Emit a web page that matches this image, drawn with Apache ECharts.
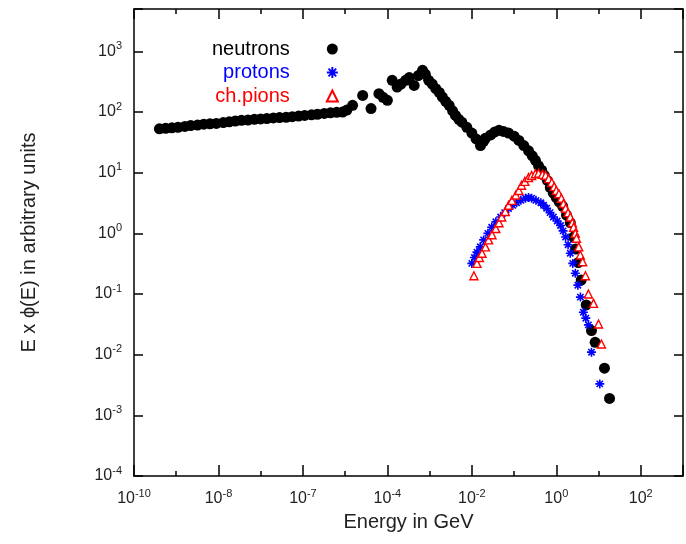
<!DOCTYPE html>
<html>
<head>
<meta charset="utf-8">
<script src="https://cdn.jsdelivr.net/npm/echarts@6/dist/echarts.min.js"></script>
<style>
html, body { margin: 0; padding: 0; background: #fff; }
#chart { width: 686px; height: 544px; }
</style>
</head>
<body>
<div id="chart"></div>
<script>
// neutrons: energy in GeV and E x phi(E)
var neutronE = [4.0e-10, 5.6e-10, 7.9e-10, 1.1e-9, 1.6e-9, 2.2e-9, 3.2e-9, 4.5e-9, 6.3e-9, 8.9e-9,
    1.3e-8, 1.8e-8, 2.5e-8, 3.5e-8, 5.0e-8, 7.1e-8, 1.0e-7, 1.4e-7, 2.0e-7, 2.8e-7,
    4.0e-7, 5.6e-7, 7.9e-7, 1.1e-6, 1.6e-6, 2.2e-6, 3.2e-6, 4.5e-6, 6.3e-6, 8.7e-6,
    1.1e-5, 1.5e-5, 2.6e-5, 4.1e-5, 6.3e-5, 7.9e-5, 1.0e-4, 1.3e-4, 1.7e-4, 2.1e-4,
    2.7e-4, 3.3e-4, 4.3e-4, 5.4e-4, 6.8e-4, 7.9e-4, 9.5e-4, 1.15e-3, 1.4e-3, 1.7e-3,
    2.0e-3, 2.4e-3, 2.9e-3, 3.5e-3, 4.1e-3, 4.9e-3, 5.8e-3, 7.6e-3, 1.0e-2, 1.26e-2,
    1.6e-2, 1.9e-2, 2.1e-2, 2.8e-2, 3.5e-2, 4.4e-2, 5.6e-2, 7.4e-2, 0.10, 0.13,
    0.17, 0.22, 0.27, 0.32, 0.38, 0.45, 0.52, 0.62, 0.72, 0.85,
    1.0, 1.17, 1.41, 1.74, 2.14, 2.57, 2.88, 3.31, 3.89, 5.1,
    6.8, 8.3, 13.8, 18.2];
var neutronFlux = [53, 54, 55, 56, 58, 60, 61, 63, 64, 65,
    67, 69, 71, 73, 74, 76, 77, 78, 80, 81,
    82, 84, 86, 88, 90, 92, 95, 97, 99, 100,
    108, 129, 188, 114, 201, 175, 156, 333, 258, 290,
    333, 370, 275, 400, 487, 420, 333, 290, 243, 210,
    177, 150, 129, 105, 88, 76, 68, 56, 45, 36,
    28, 33, 37, 42, 47, 50, 48, 45, 40, 34,
    28, 23, 19, 16, 13, 11, 9.0, 7.4, 5.7, 4.6,
    3.9, 3.3, 2.8, 2.0, 1.5, 0.87, 0.55, 0.33, 0.17, 0.066,
    0.025, 0.016, 0.006, 0.0019];

// protons
var protonE = [0.010, 0.0115, 0.0132, 0.0158, 0.019, 0.024, 0.0295, 0.037, 0.048, 0.060,
    0.074, 0.093, 0.115, 0.145, 0.186, 0.22, 0.26, 0.33, 0.43, 0.50,
    0.59, 0.71, 0.85, 1.05, 1.26, 1.45, 1.66, 1.9, 2.14, 2.45,
    2.82, 3.24, 3.72, 4.37, 5.0, 5.75, 6.8, 10.7];
var protonFlux = [0.32, 0.40, 0.49, 0.60, 0.78, 1.0, 1.26, 1.55, 1.86, 2.2,
    2.57, 2.9, 3.2, 3.5, 3.8, 3.9, 3.8, 3.5, 3.2, 2.9,
    2.6, 2.2, 1.86, 1.6, 1.35, 1.1, 0.87, 0.65, 0.47, 0.32,
    0.22, 0.14, 0.089, 0.05, 0.04, 0.031, 0.011, 0.0033];

// charged pions
var pionE = [0.0112, 0.0132, 0.0151, 0.0174, 0.021, 0.025, 0.030, 0.037, 0.044, 0.051,
    0.062, 0.074, 0.089, 0.11, 0.13, 0.15, 0.18, 0.22, 0.26, 0.32,
    0.38, 0.47, 0.56, 0.66, 0.78, 0.89, 1.0, 1.15, 1.32, 1.48,
    1.66, 1.9, 2.14, 2.4, 2.57, 2.82, 3.0, 3.4, 3.7, 4.2,
    4.9, 5.75, 7.6, 10, 11.7];
var pionFlux = [0.20, 0.32, 0.40, 0.47, 0.60, 0.78, 0.95, 1.2, 1.5, 1.86,
    2.3, 2.9, 3.5, 4.3, 5.1, 6.2, 7.2, 8.3, 9.0, 9.6,
    9.8, 9.4, 9.1, 8.0, 6.9, 5.9, 5.1, 4.5, 3.8, 3.1,
    2.6, 2.2, 1.86, 1.5, 1.26, 1.0, 0.83, 0.6, 0.44, 0.34,
    0.20, 0.10, 0.07, 0.032, 0.015];

// tick labels (superscript part, as printed on the original)
var xTickExps = [-10, -8, -6, -4, -2, 0, 2];
var xTickTexts = ['-10', '-8', '-7', '-4', '-2', '0', '2'];
var yTickExps = [-4, -3, -2, -1, 0, 1, 2, 3];
var yTickTexts = ['-4', '-3', '-2', '-1', '0', '1', '2', '3'];

var seriesNames = ['neutrons', 'protons', 'ch.pions'];
var seriesColors = ['#000000', '#0000ff', '#ff0000'];

var font = 'Liberation Sans, Arial, sans-serif';
var textColor = '#222';

function pairs(xs, ys) {
    return xs.map(function (x, i) { return [x, ys[i]]; });
}

// 10^n labels with the exponent as superscript
function powerLabel(exps, texts) {
    return function (v) {
        var e = Math.log10(v);
        var r = Math.round(e);
        var i = exps.indexOf(r);
        if (Math.abs(e - r) > 1e-6 || i < 0) return '';
        return '{b|10}{s|' + texts[i] + '}';
    };
}

var richLabel = {
    b: { fontSize: 16, lineHeight: 22, color: textColor, fontFamily: font },
    s: { fontSize: 11, lineHeight: 12, verticalAlign: 'top', color: textColor, fontFamily: font }
};

var frameLine = { show: true, onZero: false, lineStyle: { color: '#000', width: 1.5 } };
var noLine = { show: false, onZero: false };

function xAxisDef(position, interval, tickLen, withLabels) {
    return {
        type: 'log', logBase: 10, min: 1e-10, max: 1e3, interval: interval,
        position: position,
        axisLine: tickLen > 6 ? frameLine : noLine,
        axisTick: { show: true, inside: true, length: tickLen, lineStyle: { color: '#000', width: 1.5 } },
        axisLabel: withLabels ? {
            show: true, margin: 12, formatter: powerLabel(xTickExps, xTickTexts), rich: richLabel
        } : { show: false },
        splitLine: { show: false }
    };
}

function yAxisDef(position, withLabels) {
    return {
        type: 'log', logBase: 10, min: 1e-4, max: 5000, interval: 1,
        position: position,
        axisLine: frameLine,
        axisTick: { show: true, inside: true, length: 9, lineStyle: { color: '#000', width: 1.5 } },
        axisLabel: withLabels ? {
            show: true, margin: 12, formatter: powerLabel(yTickExps, yTickTexts), rich: richLabel
        } : { show: false },
        splitLine: { show: false }
    };
}

var chart = echarts.init(document.getElementById('chart'));

// long ticks every two decades, short ones every decade, mirrored on the top
var xAxes = [
    xAxisDef('bottom', 2, 11, true),
    xAxisDef('top', 2, 10, false),
    xAxisDef('bottom', 1, 5, false),
    xAxisDef('top', 1, 5, false)
];
xAxes[0].name = 'Energy in GeV';
xAxes[0].nameLocation = 'middle';
xAxes[0].nameGap = 36;
xAxes[0].nameTextStyle = { fontSize: 20, color: textColor, fontFamily: font };

var yAxes = [
    yAxisDef('left', true),
    yAxisDef('right', false)
];
yAxes[0].name = 'E x \u03d5(E) in arbitrary units';
yAxes[0].nameLocation = 'middle';
yAxes[0].nameGap = 95;
yAxes[0].nameTextStyle = { fontSize: 20, color: textColor, fontFamily: font };

var option = {
    animation: false,
    backgroundColor: '#fff',
    grid: { left: 134, right: 1, top: 9, bottom: 68, containLabel: false },
    legend: {
        orient: 'vertical',
        left: 207,
        top: 34,
        align: 'right',
        itemWidth: 11,
        itemHeight: 11,
        itemGap: 3.5,
        selectedMode: false,
        textStyle: { fontSize: 20, fontFamily: font, padding: [0, 32, 0, 0] },
        data: seriesNames.map(function (n, i) {
            return { name: n, textStyle: { color: seriesColors[i] } };
        })
    },
    xAxis: xAxes,
    yAxis: yAxes,
    series: [
        {
            name: seriesNames[0], type: 'scatter', xAxisIndex: 0, yAxisIndex: 0,
            symbol: 'circle', symbolSize: 11,
            itemStyle: { color: seriesColors[0], opacity: 1 },
            data: pairs(neutronE, neutronFlux)
        },
        {
            name: seriesNames[1], type: 'scatter', xAxisIndex: 0, yAxisIndex: 0,
            symbol: 'path://M5,0L5,10M0,5L10,5M1.5,1.5L8.5,8.5M8.5,1.5L1.5,8.5', symbolSize: 9,
            itemStyle: { color: 'rgba(0,0,0,0)', borderColor: seriesColors[1], borderWidth: 1.6, opacity: 1 },
            data: pairs(protonE, protonFlux)
        },
        {
            name: seriesNames[2], type: 'scatter', xAxisIndex: 0, yAxisIndex: 0,
            symbol: 'triangle', symbolSize: 8,
            itemStyle: { color: '#fff', borderColor: seriesColors[2], borderWidth: 1.4, opacity: 1 },
            data: pairs(pionE, pionFlux)
        }
    ]
};

chart.setOption(option);

window.addEventListener('resize', function () {
    chart.resize();
});
</script>
</body>
</html>
